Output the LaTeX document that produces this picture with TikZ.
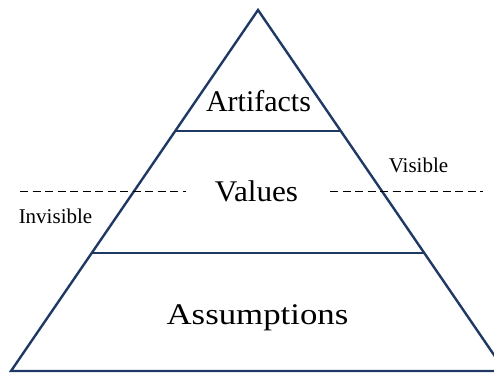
\documentclass[tikz,border=0pt]{standalone}
\usepackage{fontspec}
\setmainfont{Liberation Serif}
\definecolor{navy}{RGB}{31,56,100}
\begin{document}
\begin{tikzpicture}[x=1pt,y=-1pt,
  edge/.style={draw=navy,line width=2.4pt,line join=miter},
  sep/.style={draw=black,line width=0.9pt,dash pattern=on 8pt off 4.5pt},
  big/.style={font=\fontsize{30}{36}\selectfont,inner sep=0pt,anchor=base},
  small/.style={font=\fontsize{21}{25}\selectfont,inner sep=0pt,anchor=base}]
\useasboundingbox (0,0) rectangle (494,373);
\clip (0,0) rectangle (494,373);
\coordinate (apex) at (258,10);
\coordinate (bl) at (11,371);
\coordinate (br) at (505,371);
\coordinate (l1) at (175.2,131);
\coordinate (r1) at (340.8,131);
\coordinate (l2) at (92,252.7);
\coordinate (r2) at (424,252.7);
\draw[edge] (apex) -- (br) -- (bl) -- cycle;
\draw[edge] (l1) -- (r1);
\draw[edge] (l2) -- (r2);
\coordinate (dl1) at (20,191);
\coordinate (dl2) at (186,191);
\coordinate (dr1) at (330,191);
\coordinate (dr2) at (483,191);
\draw[sep] (dl1) -- (dl2);
\draw[sep] (dr1) -- (dr2);
\node[big] (art) at (258.5,111.7) {Artifacts};
\node[big] (val) at (256.5,201.7) {\scalebox{1.04}[1]{Values}};
\node[big] (ass) at (257.5,324) {\scalebox{1.16}[1]{Assumptions}};
\node[small] (inv) at (55.5,223.3) {Invisible};
\node[small] (vis) at (418.5,172.7) {Visible};
\end{tikzpicture}
\end{document}
